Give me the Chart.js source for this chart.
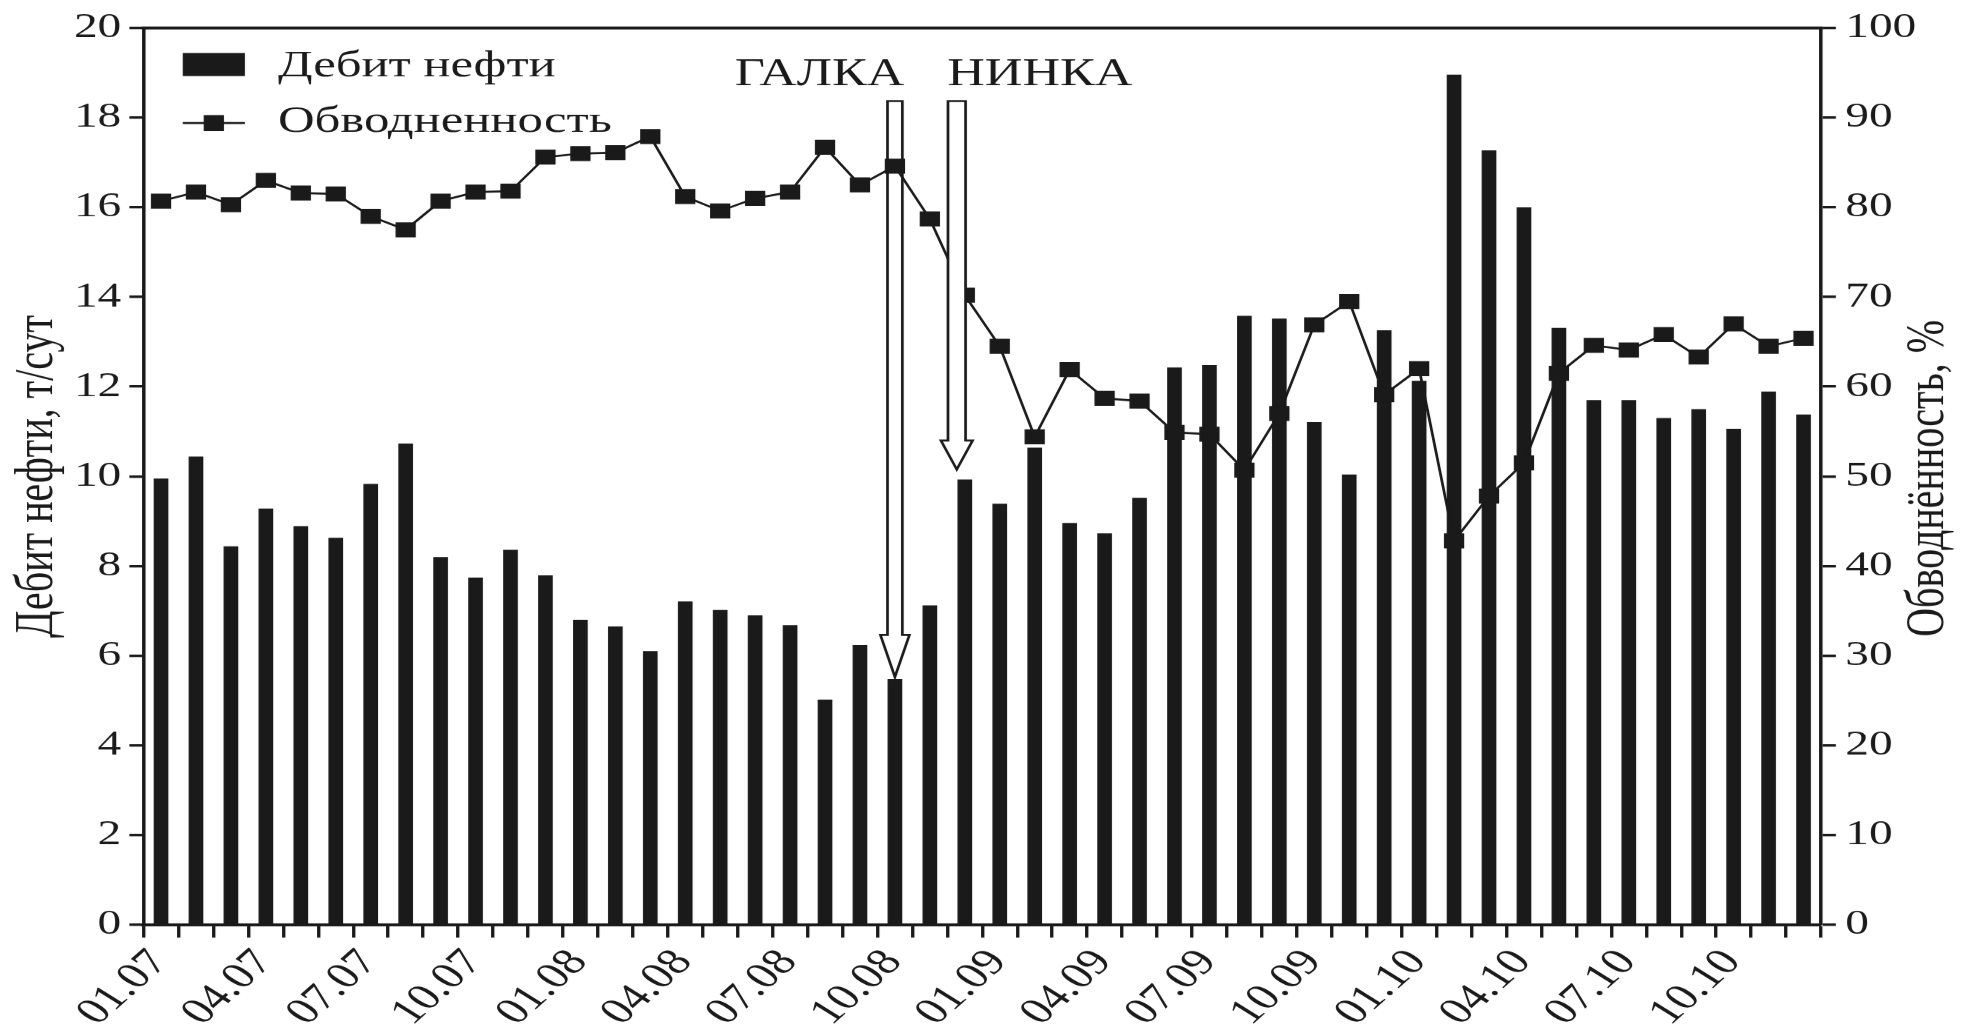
<!DOCTYPE html>
<html lang="ru">
<head>
<meta charset="utf-8">
<title>Дебит нефти и обводненность</title>
<script src="https://cdn.jsdelivr.net/npm/chart.js@4.4.1/dist/chart.umd.min.js"></script>
<style>
  html, body { margin: 0; padding: 0; background: #fff; overflow: hidden; }
  /* the source figure is stretched sideways, so the chart is drawn narrow and widened */
  #wrap { width: 1460px; height: 1030px; transform: scaleX(1.35137); transform-origin: 0 0; }
</style>
</head>
<body>
<div id="wrap"><canvas id="myChart" width="1460" height="1030"></canvas></div>
<script>
const STRETCH = 1973 / 1460;
const INK = '#1a1a1a';
const SERIF = "'Liberation Serif', 'Times New Roman', serif";

const months = [
  '01.07','02.07','03.07','04.07','05.07','06.07','07.07','08.07','09.07','10.07','11.07','12.07',
  '01.08','02.08','03.08','04.08','05.08','06.08','07.08','08.08','09.08','10.08','11.08','12.08',
  '01.09','02.09','03.09','04.09','05.09','06.09','07.09','08.09','09.09','10.09','11.09','12.09',
  '01.10','02.10','03.10','04.10','05.10','06.10','07.10','08.10','09.10','10.10','11.10','12.10'
];
const tickLabels = ['01.07','04.07','07.07','10.07','01.08','04.08','07.08','10.08',
                    '01.09','04.09','07.09','10.09','01.10','04.10','07.10','10.10'];

// дебит нефти, т/сут
const oilRate = [
  9.95, 10.44, 8.44, 9.28, 8.89, 8.63, 9.83, 10.73, 8.2, 7.74,
  8.36, 7.79, 6.8, 6.65, 6.1, 7.21, 7.02, 6.9, 6.68, 5.02,
  6.24, 5.48, 7.12, 9.93, 9.39, 10.64, 8.96, 8.73, 9.52, 12.43,
  12.48, 13.58, 13.52, 11.21, 10.04, 13.26, 12.13, 18.96, 17.27, 16.0,
  13.31, 11.7, 11.7, 11.3, 11.5, 11.06, 11.89, 11.38
];
// обводненность, %
const waterCut = [
  80.7, 81.7, 80.3, 83.0, 81.6, 81.5, 79.0, 77.5, 80.7, 81.7,
  81.8, 85.6, 86.0, 86.1, 87.9, 81.2, 79.6, 81.0, 81.7, 86.7,
  82.5, 84.6, 78.7, 70.2, 64.5, 54.4, 61.9, 58.7, 58.4, 54.9,
  54.7, 50.7, 57.0, 66.9, 69.5, 59.1, 62.0, 42.8, 47.8, 51.5,
  61.5, 64.6, 64.1, 65.8, 63.3, 67.0, 64.5, 65.4
];

const seriesNames = ['Дебит нефти', 'Обводненность'];
const leftTitle = 'Дебит нефти, т/сут';
const rightTitle = 'Обводнённость, %';

// events marked with arrows: month index, which bar the tip points to
const events = [
  { text: 'ГАЛКА', at: 21, bar: 21, gap: 2, head: 42, headW: 21.5, shaftW: 11, align: 'right', dx: 7, onTop: false },
  { text: 'НИНКА', at: 22.77, bar: 23, gap: 10, head: 29, headW: 23.5, shaftW: 13, align: 'left', dx: -7, onTop: true }
];

const drawEvents = (chart, onTop) => {
  const ctx = chart.ctx;
  const x = chart.scales.x, y = chart.scales.y;
  const top = chart.chartArea.top;
  events.filter(e => e.onTop === onTop).forEach(e => {
    const cx = x.getPixelForValue(e.at);
    const tip = y.getPixelForValue(oilRate[e.bar]) - e.gap;
    const shaftTop = top + 73;
    const headTop = tip - e.head;
    ctx.save();
    ctx.beginPath();
    ctx.moveTo(cx - e.shaftW / 2, shaftTop);
    ctx.lineTo(cx + e.shaftW / 2, shaftTop);
    ctx.lineTo(cx + e.shaftW / 2, headTop);
    ctx.lineTo(cx + e.headW / 2, headTop);
    ctx.lineTo(cx, tip);
    ctx.lineTo(cx - e.headW / 2, headTop);
    ctx.lineTo(cx - e.shaftW / 2, headTop);
    ctx.closePath();
    ctx.fillStyle = '#fff';
    ctx.fill();
    ctx.lineWidth = 2;
    ctx.strokeStyle = INK;
    ctx.stroke();
    ctx.font = '38.5px ' + SERIF;
    ctx.fillStyle = INK;
    ctx.textAlign = e.align;
    ctx.textBaseline = 'alphabetic';
    ctx.fillText(e.text, cx + e.dx, top + 57);
    ctx.restore();
  });
};

const decor = {
  id: 'decor',
  afterDatasetDraw(chart, args) {
    if (args.meta.type === 'bar') drawEvents(chart, false);
  },
  afterDatasetsDraw(chart) {
    drawEvents(chart, true);
  },
  afterDraw(chart) {
    const ctx = chart.ctx;
    const {left, right, top} = chart.chartArea;
    ctx.save();
    // top frame line
    ctx.strokeStyle = INK;
    ctx.lineWidth = 3;
    ctx.beginPath();
    ctx.moveTo(left - 1.3, top);
    ctx.lineTo(right + 1.3, top);
    ctx.stroke();

    // legend
    ctx.fillStyle = INK;
    ctx.fillRect(left + 29, top + 25, 46, 23);
    ctx.lineWidth = 2;
    ctx.beginPath();
    ctx.moveTo(left + 29, top + 95);
    ctx.lineTo(left + 75, top + 95);
    ctx.stroke();
    ctx.fillRect(left + 52 - 7.5, top + 95 - 8, 15, 16);
    ctx.font = '37.5px ' + SERIF;
    ctx.textAlign = 'left';
    ctx.textBaseline = 'alphabetic';
    ctx.fillText(seriesNames[0], left + 99.5, top + 48);
    ctx.fillText(seriesNames[1], left + 99.5, top + 104);

    // right axis title, read bottom to top
    ctx.translate(1427, 478);
    ctx.rotate(-Math.PI / 2);
    ctx.font = '40px ' + SERIF;
    ctx.textAlign = 'center';
    ctx.textBaseline = 'middle';
    ctx.fillText(rightTitle, 0, 0);
    ctx.restore();
  }
};

Chart.defaults.font.family = SERIF;
Chart.defaults.color = INK;

const ctx = document.getElementById('myChart');

const config = {
  data: {
    labels: months,
    datasets: [{
      type: 'bar',
      label: seriesNames[0],
      data: oilRate,
      yAxisID: 'y',
      backgroundColor: INK,
      borderWidth: 0,
      categoryPercentage: 1,
      barPercentage: 0.42,
      order: 2
    }, {
      type: 'line',
      label: seriesNames[1],
      data: waterCut,
      yAxisID: 'y1',
      borderColor: INK,
      borderWidth: 2,
      tension: 0,
      pointStyle: 'rect',
      pointRadius: 10.6,
      pointBackgroundColor: INK,
      pointBorderColor: INK,
      pointBorderWidth: 0,
      order: 1
    }]
  },
  plugins: [decor],
  options: {
    responsive: false,
    animation: false,
    devicePixelRatio: STRETCH,
    layout: { padding: { top: 25, left: 0, right: 0, bottom: 0 } },
    plugins: {
      legend: { display: false },
      tooltip: { enabled: false }
    },
    scales: {
      x: {
        type: 'category',
        offset: true,
        afterFit: (scale) => { scale.height = 106; },
        border: { display: true, color: INK, width: 3 },
        grid: {
          offset: true,
          drawOnChartArea: false,
          drawTicks: true,
          tickLength: 13,
          tickWidth: 2.5,
          tickColor: INK
        },
        ticks: {
          autoSkip: false,
          maxRotation: 50,
          minRotation: 50,
          padding: 4,
          labelOffset: -1,
          font: { size: 37 },
          color: INK,
          callback: function(value) {
            const lbl = this.getLabelForValue(value);
            return tickLabels.includes(lbl) ? lbl : '';
          }
        }
      },
      y: {
        position: 'left',
        min: 0,
        max: 20,
        afterFit: (scale) => { scale.width = 106.2; },
        border: { display: true, color: INK, width: 2.6 },
        grid: {
          drawOnChartArea: false,
          drawTicks: true,
          tickLength: 10.5,
          tickWidth: 2.5,
          tickColor: INK
        },
        ticks: { stepSize: 2, padding: 6, font: { size: 35 }, color: INK },
        title: {
          display: true,
          text: leftTitle,
          font: { size: 40 },
          color: INK,
          padding: { top: 4, bottom: 0 }
        }
      },
      y1: {
        position: 'right',
        min: 0,
        max: 100,
        afterFit: (scale) => { scale.width = 112.5; },
        border: { display: true, color: INK, width: 2.6 },
        grid: {
          drawOnChartArea: false,
          drawTicks: true,
          tickLength: 11,
          tickWidth: 2.5,
          tickColor: INK
        },
        ticks: { stepSize: 10, padding: 7, font: { size: 35 }, color: INK }
      }
    }
  }
};

const myChart = new Chart(ctx, config);
</script>
</body>
</html>
